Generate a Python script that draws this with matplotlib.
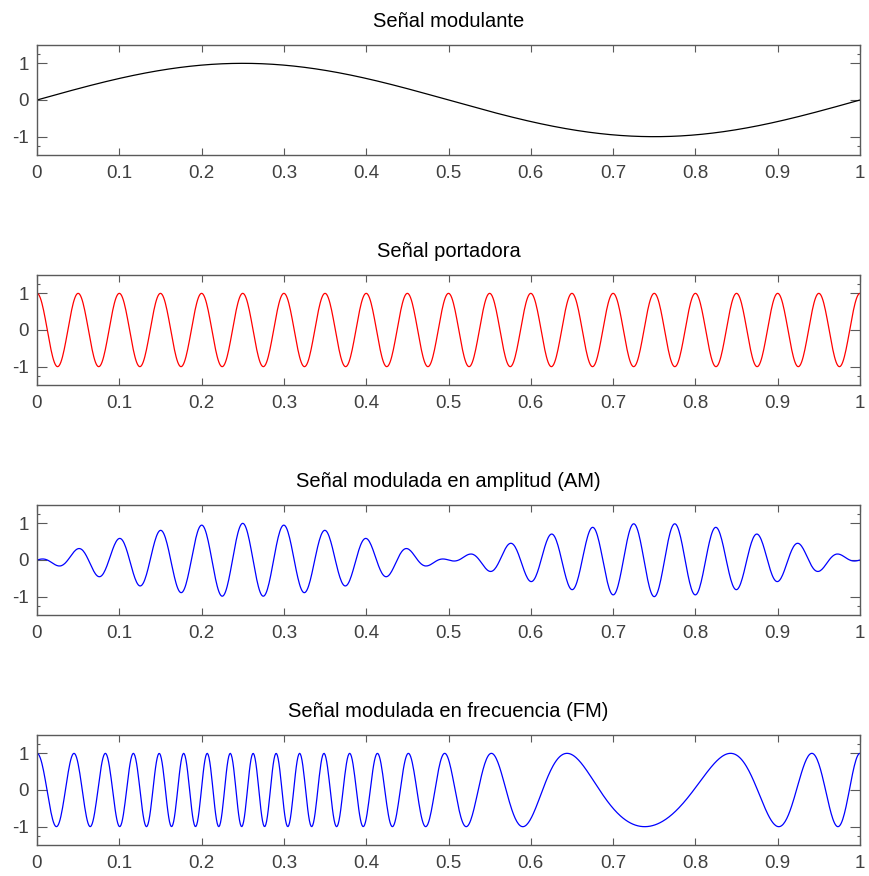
import numpy as np
import matplotlib
matplotlib.use("Agg")
import matplotlib.pyplot as plt
from matplotlib.ticker import FuncFormatter

# signal parameters
t = np.linspace(0, 1, 1001)      # time axis, s
f_mod = 1                         # modulating frequency, Hz (one period over 0..1)
f_car = 20                        # carrier frequency, Hz (20 cycles over 0..1)
k_fm = 16                         # FM deviation, Hz (36 Hz at t=0.25, 4 Hz at t=0.75)
amp = 1.0

titles = ["Señal modulante", "Señal portadora",
          "Señal modulada en amplitud (AM)", "Señal modulada en frecuencia (FM)"]
line_colors = ["black", "red", "blue", "blue"]
x_ticks = [0, 0.1, 0.2, 0.3, 0.4, 0.5, 0.6, 0.7, 0.8, 0.9, 1]
y_ticks = [-1, 0, 1]
y_minor = [-1.25, 1.25]

modulante = amp * np.sin(2 * np.pi * f_mod * t)
portadora = amp * np.cos(2 * np.pi * f_car * t)
am = modulante * portadora
# FM: phase is the running integral of the instantaneous frequency
inst_freq = f_car + k_fm * modulante
phase = 2 * np.pi * np.concatenate([[0], np.cumsum((inst_freq[1:] + inst_freq[:-1]) / 2 * np.diff(t))])
fm = amp * np.cos(phase)

signals = [modulante, portadora, am, fm]

plt.rcParams['font.family'] = ['Liberation Sans', 'DejaVu Sans']
plt.rcParams['axes.unicode_minus'] = False

W, H = 869, 876
fig = plt.figure(figsize=(W / 100, H / 100), dpi=100)

axis_gray = "#5a5a5a"
tops = [45, 275, 505, 735]
for i, top in enumerate(tops):
    ax = fig.add_axes([37 / W, 1 - (top + 110) / H, 823 / W, 110 / H])
    ax.plot(t, signals[i], color=line_colors[i], lw=0.9)
    ax.set_xlim(0, 1)
    ax.set_ylim(-1.5, 1.5)
    ax.set_xticks(x_ticks)
    ax.set_yticks(y_ticks)
    ax.set_yticks(y_minor, minor=True)
    ax.xaxis.set_major_formatter(FuncFormatter(lambda v, p: f"{v:g}"))
    ax.tick_params(direction="in", top=True, right=True, width=0.8,
                   colors=axis_gray, labelsize=13.5, labelcolor="#404040")
    ax.tick_params(axis="x", length=5, pad=7)
    ax.tick_params(axis="y", length=7, pad=6)
    ax.tick_params(axis="y", which="minor", direction="in", left=True, right=True,
                   length=2.5, width=0.8, color=axis_gray)
    for s in ax.spines.values():
        s.set_color(axis_gray)
        s.set_linewidth(1.0)
    ax.set_title(titles[i], fontsize=14.5, color="black", pad=13)

fig.savefig("out.png", dpi=100)
